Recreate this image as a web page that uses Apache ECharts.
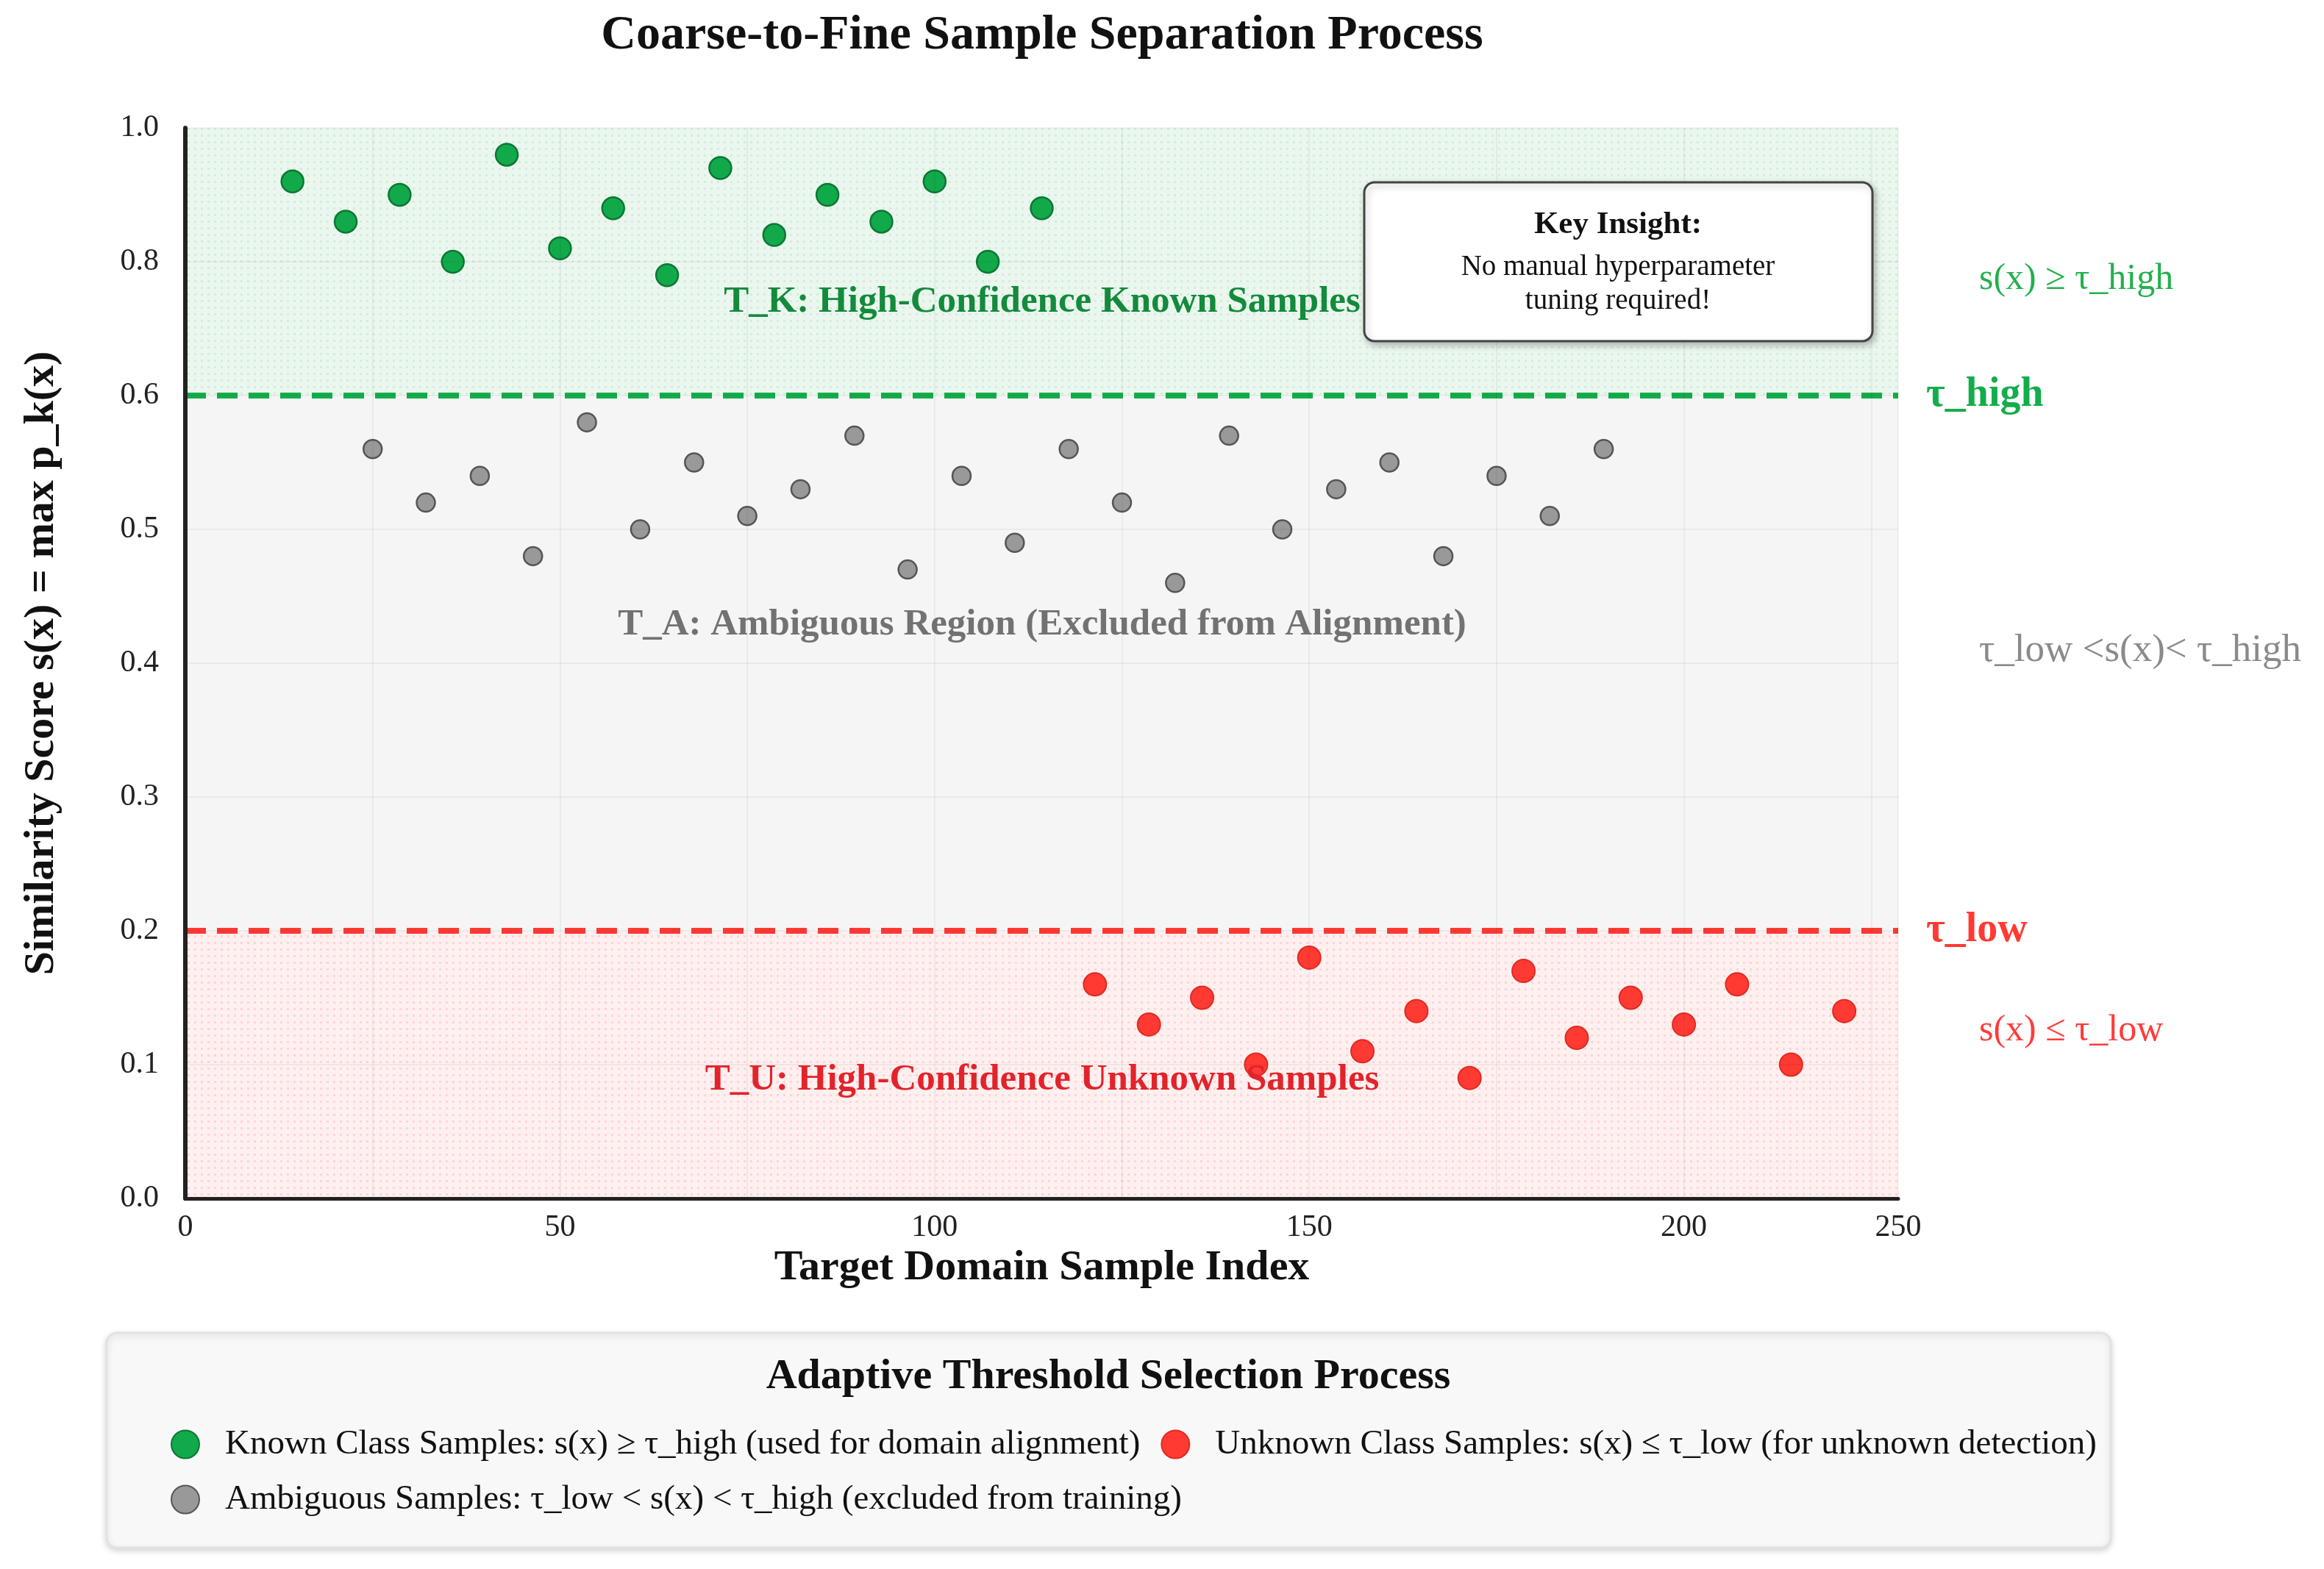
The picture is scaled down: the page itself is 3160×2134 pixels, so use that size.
<!DOCTYPE html>
<html>
<head>
<meta charset="utf-8">
<script src="https://cdn.jsdelivr.net/npm/echarts@6/dist/echarts.min.js"></script>
<style>
  html, body { margin: 0; padding: 0; background: #ffffff; }
  #chart { width: 3160px; height: 2134px; }
</style>
</head>
<body>
<div id="chart"></div>
<script>
// ---------------- data ----------------
const knownX = [14.3, 21.4, 28.6, 35.7, 42.9, 50.0, 57.1, 64.3, 71.4, 78.6, 85.7, 92.9, 100.0, 107.1, 114.3];
const knownY = [0.92, 0.86, 0.90, 0.80, 0.96, 0.82, 0.88, 0.78, 0.94, 0.84, 0.90, 0.86, 0.92, 0.80, 0.88];

const ambiguousX = [25.0, 32.1, 39.3, 46.4, 53.6, 60.7, 67.9, 75.0, 82.1, 89.3, 96.4, 103.6,
                    110.7, 117.9, 125.0, 132.1, 139.3, 146.4, 153.6, 160.7, 167.9, 175.0, 182.1, 189.3];
const ambiguousY = [0.56, 0.52, 0.54, 0.48, 0.58, 0.50, 0.55, 0.51, 0.53, 0.57, 0.47, 0.54,
                    0.49, 0.56, 0.52, 0.46, 0.57, 0.50, 0.53, 0.55, 0.48, 0.54, 0.51, 0.56];

const unknownX = [121.4, 128.6, 135.7, 142.9, 150.0, 157.1, 164.3, 171.4, 178.6, 185.7, 192.9, 200.0, 207.1, 214.3, 221.4];
const unknownY = [0.16, 0.13, 0.15, 0.10, 0.18, 0.11, 0.14, 0.09, 0.17, 0.12, 0.15, 0.13, 0.16, 0.10, 0.14];

const tauHigh = 0.6;
const tauLow = 0.2;
const yTop = 1.0;

// tick labels as printed on the reference axes
const yTickLabels = ['0.0', '0.1', '0.2', '0.3', '0.4', '0.5', '0.6', '0.8', '1.0'];
const xTickLabels = ['0', '50', '100', '150', '200', '250'];
const xAxisEnd = 228.6;   // right end of the x axis (printed as "250" in the reference)

const knownName = 'Known Class Samples: s(x) \u2265 \u03c4_high (used for domain alignment)';
const unknownName = 'Unknown Class Samples: s(x) \u2264 \u03c4_low (for unknown detection)';
const ambiguousName = 'Ambiguous Samples: \u03c4_low < s(x) < \u03c4_high (excluded from training)';

// ---------------- helpers ----------------
// The reference y axis is piecewise: 0..0.6 at full scale, 0.6..1.0 at half scale.
function toDisplayY(v) { return v <= tauHigh ? v : tauHigh + (v - tauHigh) / 2; }
function pairs(xs, ys) { return xs.map((x, i) => [x, toDisplayY(ys[i])]); }

function dotPattern(base, dot) {
  const c = document.createElement('canvas');
  c.width = 9; c.height = 9;
  const g = c.getContext('2d');
  g.fillStyle = base; g.fillRect(0, 0, 9, 9);
  g.fillStyle = dot; g.fillRect(3, 3, 3, 3);
  return { image: c, repeat: 'repeat' };
}

const FONT = "'Liberation Serif', 'Times New Roman', serif";
const GREEN = '#14ad4b';
const RED = '#ff3a33';

const chart = echarts.init(document.getElementById('chart'), null, { renderer: 'canvas' });

const option = {
  backgroundColor: '#ffffff',
  animation: false,
  title: [
    {
      text: 'Coarse-to-Fine Sample Separation Process',
      left: 1417, top: 16, textAlign: 'center', padding: 0,
      textStyle: { fontFamily: FONT, fontSize: 66, fontWeight: 'bold', color: '#111' }
    },
    {
      text: 'Adaptive Threshold Selection Process',
      left: 1507, top: 1844, textAlign: 'center', padding: 0, z: 10,
      textStyle: { fontFamily: FONT, fontSize: 58, fontWeight: 'bold', color: '#111' }
    }
  ],
  grid: {
    left: 252, right: 579, top: 174, bottom: 504,
    show: true, backgroundColor: '#f5f5f5', borderWidth: 0
  },
  xAxis: {
    type: 'value', min: 0, max: xAxisEnd, interval: 25, z: 10,
    name: 'Target Domain Sample Index', nameLocation: 'middle', nameGap: 33,
    nameTextStyle: { fontFamily: FONT, fontSize: 58, fontWeight: 'bold', color: '#111' },
    axisLine: { show: true, onZero: false, lineStyle: { color: '#222', width: 5 } },
    axisTick: { show: false },
    splitLine: { show: true, lineStyle: { color: 'rgba(0,0,0,0.045)', width: 2 } },
    axisLabel: {
      fontFamily: FONT, fontSize: 42, color: '#222', margin: 19, showMaxLabel: true,
      formatter: function (v) {
        if (Math.abs(v - xAxisEnd) < 0.01) return xTickLabels[xTickLabels.length - 1];
        if (v % 50 === 0) return xTickLabels[v / 50];
        return '';
      }
    }
  },
  yAxis: {
    type: 'value', min: 0, max: toDisplayY(yTop), interval: 0.1, z: 10,
    name: 'Similarity Score s(x) = max p_k(x)', nameLocation: 'middle', nameGap: 166, nameRotate: 90,
    nameTextStyle: { fontFamily: FONT, fontSize: 58, fontWeight: 'bold', color: '#111' },
    axisLine: { show: true, lineStyle: { color: '#222', width: 6 } },
    axisTick: { show: false },
    splitLine: { show: true, lineStyle: { color: 'rgba(0,0,0,0.045)', width: 2 } },
    axisLabel: {
      fontFamily: FONT, fontSize: 42, color: '#222', margin: 36,
      formatter: function (v) { return yTickLabels[Math.round(v * 10)] || ''; }
    }
  },
  legend: {
    data: [knownName, unknownName, ambiguousName],
    left: 232, top: 1941, width: 2680, padding: 0,
    orient: 'horizontal', icon: 'circle',
    itemWidth: 38, itemHeight: 38, itemGap: 28,
    selectedMode: false, z: 10,
    textStyle: { fontFamily: FONT, fontSize: 47, color: '#111', padding: [0, 0, 0, 30] }
  },
  series: [
    {
      name: 'regions', type: 'scatter', data: [], silent: true, z: 1,
      markArea: {
        silent: true,
        data: [
          [{ yAxis: toDisplayY(tauHigh), itemStyle: { color: dotPattern('#ebf7ee', '#d2eed9') } },
           { yAxis: toDisplayY(yTop) }],
          [{ yAxis: 0, itemStyle: { color: dotPattern('#fff0f0', '#ffd4d4') } },
           { yAxis: toDisplayY(tauLow) }]
        ]
      },
      markLine: {
        silent: true, symbol: 'none',
        data: [
          {
            yAxis: toDisplayY(tauHigh),
            lineStyle: { color: GREEN, width: 8, type: [28, 15] },
            label: { show: true, position: 'end', distance: 38, formatter: '\u03c4_high',
                     fontFamily: FONT, fontSize: 56, fontWeight: 'bold', color: GREEN }
          },
          {
            yAxis: toDisplayY(tauLow),
            lineStyle: { color: RED, width: 8, type: [28, 15] },
            label: { show: true, position: 'end', distance: 38, formatter: '\u03c4_low',
                     fontFamily: FONT, fontSize: 56, fontWeight: 'bold', color: RED }
          }
        ]
      }
    },
    {
      name: knownName, type: 'scatter', z: 5,
      data: pairs(knownX, knownY), symbol: 'circle', symbolSize: 30,
      itemStyle: { color: '#12a94a', borderColor: '#0b7834', borderWidth: 2.5, opacity: 1 }
    },
    {
      name: ambiguousName, type: 'scatter', z: 5,
      data: pairs(ambiguousX, ambiguousY), symbol: 'circle', symbolSize: 25,
      itemStyle: { color: '#999999', borderColor: '#555555', borderWidth: 2.5, opacity: 1 }
    },
    {
      name: unknownName, type: 'scatter', z: 5,
      data: pairs(unknownX, unknownY), symbol: 'circle', symbolSize: 31,
      itemStyle: { color: RED, borderColor: '#e02a22', borderWidth: 2, opacity: 1 }
    }
  ],
  graphic: [
    // region captions
    { type: 'text', x: 1417, y: 411, z: 20, silent: true,
      style: { text: 'T_K: High-Confidence Known Samples', font: 'bold 51px ' + FONT,
               fill: '#138a3c', align: 'center', verticalAlign: 'middle' } },
    { type: 'text', x: 1417, y: 850, z: 20, silent: true,
      style: { text: 'T_A: Ambiguous Region (Excluded from Alignment)', font: 'bold 51px ' + FONT,
               fill: '#727272', align: 'center', verticalAlign: 'middle' } },
    { type: 'text', x: 1417, y: 1469, z: 20, silent: true,
      style: { text: 'T_U: High-Confidence Unknown Samples', font: 'bold 51px ' + FONT,
               fill: '#e3232b', align: 'center', verticalAlign: 'middle' } },
    // right side condition notes
    { type: 'text', x: 2691, y: 380, z: 20, silent: true,
      style: { text: 's(x) \u2265 \u03c4_high', font: '50px ' + FONT, fill: '#22b14c',
               align: 'left', verticalAlign: 'middle' } },
    { type: 'text', x: 2691, y: 885, z: 20, silent: true,
      style: { text: '\u03c4_low <s(x)< \u03c4_high', font: '53px ' + FONT, fill: '#8a8a8a',
               align: 'left', verticalAlign: 'middle' } },
    { type: 'text', x: 2691, y: 1402, z: 20, silent: true,
      style: { text: 's(x) \u2264 \u03c4_low', font: '50px ' + FONT, fill: '#ff3b3b',
               align: 'left', verticalAlign: 'middle' } },
    // key insight box
    { type: 'rect', z: 50, silent: true,
      shape: { x: 1855, y: 248, width: 691, height: 216, r: 14 },
      style: { fill: '#ffffff', stroke: '#444444', lineWidth: 3,
               shadowBlur: 10, shadowColor: 'rgba(0,0,0,0.25)', shadowOffsetX: 3, shadowOffsetY: 4 } },
    { type: 'text', x: 2200, y: 306, z: 51, silent: true,
      style: { text: 'Key Insight:', font: 'bold 43px ' + FONT, fill: '#111',
               align: 'center', verticalAlign: 'middle' } },
    { type: 'text', x: 2200, y: 364, z: 51, silent: true,
      style: { text: 'No manual hyperparameter', font: '39px ' + FONT, fill: '#111',
               align: 'center', verticalAlign: 'middle' } },
    { type: 'text', x: 2200, y: 410, z: 51, silent: true,
      style: { text: 'tuning required!', font: '39px ' + FONT, fill: '#111',
               align: 'center', verticalAlign: 'middle' } },
    // legend panel
    { type: 'rect', z: 0, silent: true,
      shape: { x: 145, y: 1813, width: 2725, height: 292, r: 14 },
      style: { fill: '#f8f8f8', stroke: '#e2e2e2', lineWidth: 3,
               shadowBlur: 8, shadowColor: 'rgba(0,0,0,0.15)', shadowOffsetX: 0, shadowOffsetY: 3 } }
  ]
};

chart.setOption(option);
</script>
</body>
</html>
